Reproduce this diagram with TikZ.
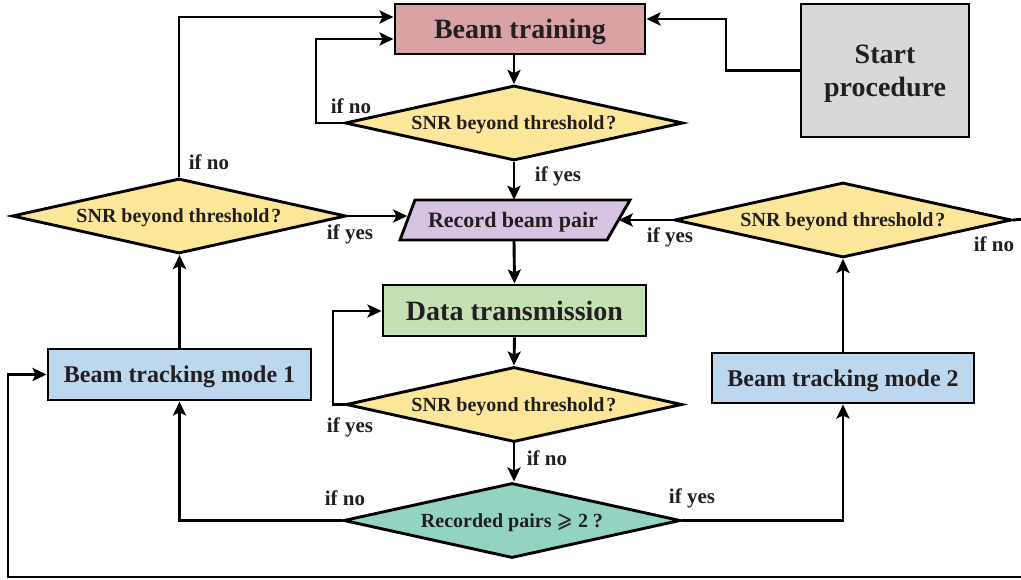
\documentclass[tikz,border=0pt]{standalone}
\usepackage{amssymb}
\usepackage{bm}
\usepackage{fontspec}
\setmainfont{Liberation Serif}
\usetikzlibrary{shapes.geometric,arrows.meta}
\definecolor{txt}{HTML}{231F20}
\definecolor{cTrain}{HTML}{D9A3A5}
\definecolor{cStart}{HTML}{D8D8D8}
\definecolor{cYel}{HTML}{FCE699}
\definecolor{cRec}{HTML}{D9C3E3}
\definecolor{cData}{HTML}{C5E0B4}
\definecolor{cTrack}{HTML}{BDD7EE}
\definecolor{cPairs}{HTML}{93D3C2}
\begin{document}
\begin{tikzpicture}[x=1pt,y=-1pt,
  lw/.style={line width=2.9pt},
  one/.style={text height=#1, text depth=0pt},
  box/.style={draw=black, lw, rectangle, inner sep=0pt, text=txt, align=center, font=\bfseries\fontsize{28}{33}\selectfont},
  tbox/.style={box, one=16.6pt, font=\bfseries\fontsize{24}{28}\selectfont},
  dia/.style={draw=black, lw, diamond, aspect=4.5, inner sep=0pt, minimum width=#1, minimum height=75pt, text=txt, one=13.8pt, font=\bfseries\fontsize{20}{24}\selectfont},
  arr/.style={lw, -{Stealth[length=14pt,width=13pt,inset=3pt]}},
  plain/.style={lw},
  lab/.style={inner sep=0pt, text=txt, font=\bfseries\fontsize{21}{24}\selectfont},
  recnode/.style={inner sep=0pt, text=txt, one=15.2pt, minimum width=211pt, minimum height=40pt, font=\bfseries\fontsize{22}{26}\selectfont}
]
\useasboundingbox (0,0) rectangle (1021,580);

% nodes
\node[box, one=19.4pt, fill=cTrain, minimum width=250pt, minimum height=50pt] (bt) at (520,29) {Beam training};
\node[box, fill=cStart, minimum width=168pt, minimum height=133pt,
  label={[inner sep=0pt, text=txt, align=center, font=\bfseries\fontsize{28}{33}\selectfont, yshift=-3pt]center:Start\\procedure}] (st) at (885,70.5) {};
\node[dia=338pt, fill=cYel] (d1) at (514,123) {SNR beyond threshold\kern2pt?};
\node[dia=334pt, fill=cYel] (d2) at (179,216) {SNR beyond threshold\kern2pt?};
\node[dia=337pt, fill=cYel] (d3) at (843,220) {SNR beyond threshold\kern2pt?};
\path[draw=black, lw, fill=cRec] (415,200) -- (630,200) -- (607,240) -- (400,240) -- cycle;
\node[recnode] (rec) at (513,220) {Record beam pair};
\node[box, one=19.4pt, fill=cData, minimum width=263pt, minimum height=51pt] (dt) at (514.5,310.5) {Data transmission};
\node[dia=336pt, fill=cYel] (d4) at (514,404.5) {SNR beyond threshold\kern2pt?};
\node[dia=337pt, fill=cPairs] (d5) at (512,520.5) {Recorded pairs $\bm{\geqslant}$ 2 ?};
\node[tbox, fill=cTrack, minimum width=263pt, minimum height=51pt] (bt1) at (179.5,374.5) {Beam tracking mode 1};
\node[tbox, fill=cTrack, minimum width=262pt, minimum height=50pt] (bt2) at (843,378) {Beam tracking mode 2};

% helper coordinates
\coordinate (c1) at (726,19);
\coordinate (c2) at (316,39);
\coordinate (c3) at (179,17);
\coordinate (c4) at (333,311);
\coordinate (redge) at (1025,219);
\coordinate (bedge) at (1025,577);
\coordinate (bl) at (8,577);

% connectors
\draw[arr] (st.west) -| (c1) -- (bt.east |- c1);
\draw[arr] (d1.north |- bt.south) -- (d1.north);
\draw[arr] (d1.west) -| (c2) -- (bt.west |- c2);
\draw[arr] (d1.south) -- (d1.south |- rec.north);
\draw[arr] (d2.north) -- (c3) -- (bt.west |- c3);
\draw[arr] (d2.east) -- (d2.east -| rec.west);
\draw[arr] (d3.west) -- (d3.west -| rec.east);
\draw[plain] (d3.east) -- (redge);
\draw[arr] (d4.north |- rec.south) -- (dt.north);
\draw[arr] (dt.south) -- (d4.north);
\draw[arr] (d4.west) -| (c4) -- (dt.west |- c4);
\draw[arr] (d4.south) -- (d4.south |- d5.north);
\draw[arr] (d5.west) -| (bt1.south);
\draw[arr] (d5.east) -| (bt2.south);
\draw[arr] (bt1.north) -- (bt1.north |- d2.south);
\draw[arr] (bt2.north) -- (bt2.north |- d3.south);
\draw[arr] (bedge) -- (bl) |- (bt1.west);

% labels
\node[lab] (l1) at (351,106) {if no};
\node[lab] (l2) at (209,162) {if no};
\node[lab] (l3) at (350,234) {if yes};
\node[lab] (l4) at (558,176) {if yes};
\node[lab] (l5) at (670,237) {if yes};
\node[lab] (l6) at (994,244) {if no};
\node[lab] (l7) at (350,427) {if yes};
\node[lab] (l8) at (547,458) {if no};
\node[lab] (l9) at (345,498) {if no};
\node[lab] (l10) at (692,498) {if yes};
\end{tikzpicture}
\end{document}
